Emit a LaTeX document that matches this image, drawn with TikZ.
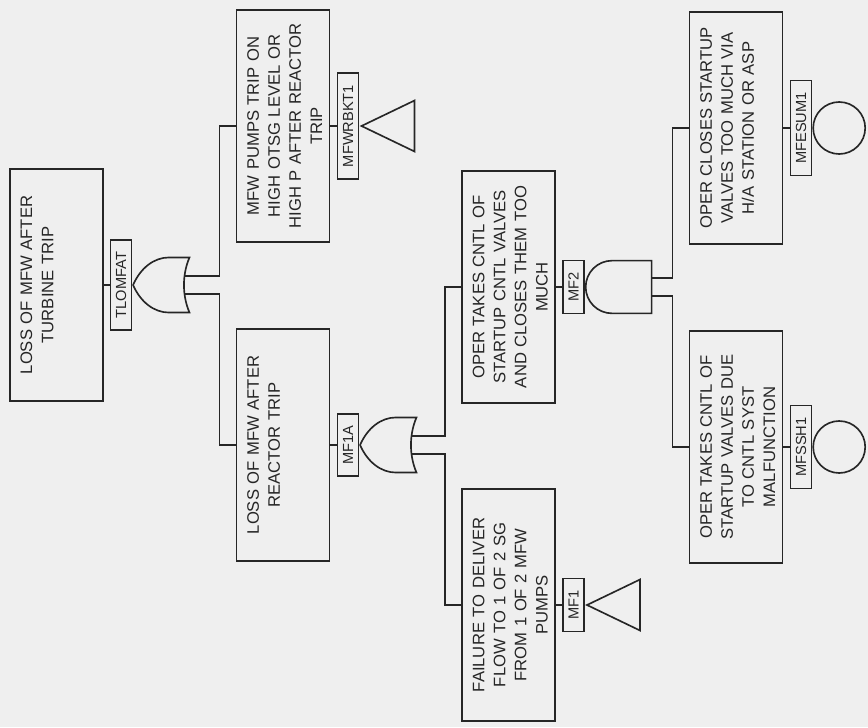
\documentclass[tikz,border=0pt]{standalone}
\usepackage{fontspec}
\setmainfont{Liberation Sans}
\usetikzlibrary{calc,shapes.geometric,shapes.gates.logic.US}
\definecolor{scan}{HTML}{EFEFEF}
\definecolor{ink}{HTML}{262626}
\begin{document}
\begin{tikzpicture}[x=0.03cm,y=-0.03cm,color=ink,line width=1.4pt,
  event/.style={draw,rotate=90,align=center,text width=190pt,inner xsep=4pt,
    inner ysep=0pt,minimum width=198pt,text height=19pt,text depth=60.4pt,
    font=\fontsize{14.2}{18}\selectfont},
  tag/.style={draw,rotate=90,inner xsep=10pt,inner ysep=0pt,minimum height=18pt,
    font=\fontsize{12.5}{12}\selectfont},
  orgate/.style={draw,or gate US,rotate=180,xscale=0.75,transform shape,
    anchor=output,logic gate inputs=nn,minimum width=47pt,minimum height=47pt,
    inner sep=0pt},
  andgate/.style={draw,and gate US,rotate=180,anchor=output,logic gate inputs=nn,
    minimum width=45pt,minimum height=45pt,inner sep=0pt},
  undev/.style={draw,isosceles triangle,isosceles triangle stretches,
    shape border rotate=180,minimum width=43.5pt,minimum height=45.2pt,
    inner sep=0pt,anchor=apex},
  basic/.style={draw,circle,minimum size=44.4pt,inner sep=0pt,anchor=west}]
\fill[scan] (0,0) rectangle (868,727);
% top event
\node[event] (tlomfat) at (56.5,285) {LOSS OF MFW AFTER\\TURBINE TRIP};
\node[tag] (tlomfat-t) at (121,285) {TLOMFAT};
\node[orgate] (g-tl) at (tlomfat-t.south) {};
\draw (tlomfat.south) -- (tlomfat-t.north);
% second level
\node[event] (mfwrbkt) at (283,126) {MFW PUMPS TRIP ON\\HIGH OTSG LEVEL OR\\HIGH P AFTER REACTOR\\TRIP};
\node[tag] (mfwrbkt-t) at (348,126) {MFWRBKT1};
\node[undev] (u-rb) at (mfwrbkt-t.south) {};
\draw (mfwrbkt.south) -- (mfwrbkt-t.north);
\node[event] (mfia) at (283,445) {LOSS OF MFW AFTER\\REACTOR TRIP};
\node[tag] (mfia-t) at (348,445) {MF1A};
\node[orgate] (g-ia) at (mfia-t.south) {};
\draw (mfia.south) -- (mfia-t.north);
\draw (g-tl.input 2) -| ($(mfwrbkt.north)+(-16,0)$) -- (mfwrbkt.north);
\draw (g-tl.input 1) -| ($(mfia.north)+(-16,0)$) -- (mfia.north);
% third level
\node[event] (mftwo) at (508.5,287) {OPER TAKES CNTL OF\\STARTUP CNTL VALVES\\AND CLOSES THEM TOO\\MUCH};
\node[tag] (mftwo-t) at (573.5,287) {MF2};
\node[andgate] (g-two) at (mftwo-t.south) {};
\draw (mftwo.south) -- (mftwo-t.north);
\node[event] (mfone) at (508.5,605) {FAILURE TO DELIVER\\FLOW TO 1 OF 2 SG\\FROM 1 OF 2 MFW\\PUMPS};
\node[tag] (mfone-t) at (573.5,605) {MF1};
\node[undev] (u-one) at (mfone-t.south) {};
\draw (mfone.south) -- (mfone-t.north);
\draw (g-ia.input 2) -| ($(mftwo.north)+(-16,0)$) -- (mftwo.north);
\draw (g-ia.input 1) -| ($(mfone.north)+(-16,0)$) -- (mfone.north);
% basic events
\node[event] (mfesum) at (736,128) {OPER CLOSES STARTUP\\VALVES TOO MUCH VIA\\H/A STATION OR ASP};
\node[tag] (mfesum-t) at (801,128) {MFESUM1};
\node[basic] (c-esum) at (mfesum-t.south) {};
\draw (mfesum.south) -- (mfesum-t.north);
\node[event] (mfssh) at (736,447) {OPER TAKES CNTL OF\\STARTUP VALVES DUE\\TO CNTL SYST\\MALFUNCTION};
\node[tag] (mfssh-t) at (801,447) {MFSSH1};
\node[basic] (c-ssh) at (mfssh-t.south) {};
\draw (mfssh.south) -- (mfssh-t.north);
\draw (g-two.input 2) -| ($(mfesum.north)+(-16,0)$) -- (mfesum.north);
\draw (g-two.input 1) -| ($(mfssh.north)+(-16,0)$) -- (mfssh.north);
\end{tikzpicture}
\end{document}
